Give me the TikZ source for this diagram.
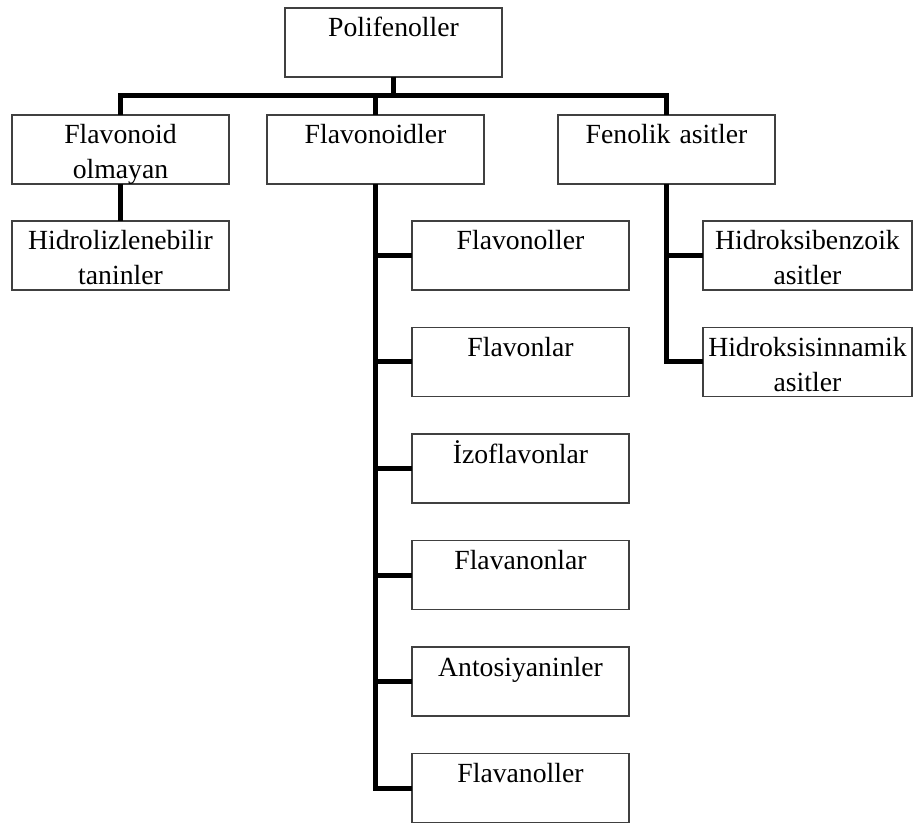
\documentclass[tikz,border=0pt]{standalone}
\usepackage{fontspec}
\setmainfont{Liberation Serif}
\usetikzlibrary{
    positioning,
    calc
}
\tikzset{
  basic/.style = {
      draw=black!75,
      line width=0.9pt,
      rectangle,
      align=center,
      text width=108.5pt,
      inner sep=0pt,
      outer sep=0pt,
      text height=14.5pt,
      text depth=20pt,
      font=\fontsize{13.85}{17.5}\selectfont
  },
  narrow/.style = {
      basic,
      text width=104.5pt
  },
  edge/.style = {
      line width=2.5pt
  }
}

\begin{document}
\begin{tikzpicture}[node distance=18.75pt]
    \useasboundingbox (0,0) rectangle (457.5pt,-411.5pt);
    % Nodes
    \node[basic, anchor=north west] (poli) at (142.5pt,-4pt) {Polifenoller};
    \node[basic, anchor=north west] (nonflav) at (6pt,-57.5pt) {Flavonoid\\olmayan};
    \node[basic, right=19pt of nonflav] (flav) {Flavonoidler};
    \node[basic, right=37pt of flav] (fenol) {Fenolik asitler};
    \node[basic, below=18.5pt of nonflav] (hidrol) {Hidrolizlenebilir\\taninler};
    \node[basic, below=18.5pt of flav, xshift=72.5pt] (flavonol) {Flavonoller};
    \node[basic, below=of flavonol] (flavon) {Flavonlar};
    \node[basic, below=of flavon] (izoflavon) {İzoflavonlar};
    \node[basic, below=of izoflavon] (flavanon) {Flavanonlar};
    \node[basic, below=of flavanon] (antosiyanin) {Antosiyaninler};
    \node[basic, below=of antosiyanin] (flavanol) {Flavanoller};
    \node[narrow, below=18.5pt of fenol, xshift=70.5pt] (hbenz) {Hidroksibenzoik\\asitler};
    \node[narrow, below=of hbenz] (hsinn) {Hidroksisinnamik\\asitler};
    \coordinate (bus) at ($(poli.south)!0.5!(flav.north)$);
    % Edges
    \draw[edge] (poli.south) -- (poli.south |- bus);
    \draw[edge] (nonflav.north) |- (fenol.north |- bus) -- (fenol.north);
    \draw[edge] (flav.north) -- (flav.north |- bus);
    \draw[edge] (nonflav.south) -- (hidrol.north);
    \draw[edge] (flav.south) |- (flavanol.west);
    \foreach \n in {flavonol, flavon, izoflavon, flavanon, antosiyanin}
        \draw[edge] (flav.south |- \n.west) -- (\n.west);
    \draw[edge] (fenol.south) |- (hsinn.west);
    \draw[edge] (fenol.south |- hbenz.west) -- (hbenz.west);
\end{tikzpicture}
\end{document}
